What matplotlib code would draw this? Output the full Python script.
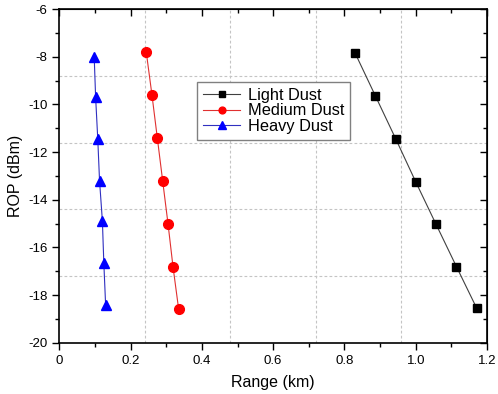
import numpy as np
import matplotlib.pyplot as plt
from matplotlib.ticker import MultipleLocator

plt.rcParams['font.family'] = ['Liberation Sans', 'DejaVu Sans']
plt.rcParams['axes.unicode_minus'] = False

# data
light_x = [0.830, 0.887, 0.944, 1.000, 1.056, 1.114, 1.171]
light_y = [-7.85, -9.65, -11.45, -13.25, -15.0, -16.8, -18.55]
medium_x = [0.244, 0.260, 0.275, 0.290, 0.305, 0.319, 0.335]
medium_y = [-7.8, -9.6, -11.4, -13.2, -15.0, -16.8, -18.6]
heavy_x = [0.098, 0.102, 0.108, 0.113, 0.121, 0.125, 0.130]
heavy_y = [-8.0, -9.7, -11.45, -13.2, -14.9, -16.65, -18.4]

xlim = (0, 1.2)
ylim = (-20, -6)

fig = plt.figure(figsize=(4.98, 3.94), dpi=100)
ax = fig.add_axes([0.119, 0.130, 0.859, 0.847])

# Origin-style grid: 5 equal divisions
for gx in np.linspace(xlim[0], xlim[1], 6)[1:-1]:
    ax.axvline(gx, color='#c4c4c4', linestyle=(0, (2.5, 2)), linewidth=0.8, zorder=0)
for gy in np.linspace(ylim[0], ylim[1], 6)[1:-1]:
    ax.axhline(gy, color='#c4c4c4', linestyle=(0, (2.5, 2)), linewidth=0.8, zorder=0)

ax.plot(light_x, light_y, color='#404040', linewidth=0.8, marker='s', markersize=6,
        markerfacecolor='black', markeredgecolor='black', label='Light Dust')
ax.plot(medium_x, medium_y, color='#e03030', linewidth=0.8, marker='o', markersize=7,
        markerfacecolor='red', markeredgecolor='red', label='Medium Dust')
ax.plot(heavy_x, heavy_y, color='#3030c0', linewidth=0.8, marker='^', markersize=7.5,
        markerfacecolor='blue', markeredgecolor='blue', label='Heavy Dust')

ax.set_xlim(*xlim)
ax.set_ylim(*ylim)
ax.xaxis.set_minor_locator(MultipleLocator(0.1))
ax.yaxis.set_major_locator(MultipleLocator(2))
ax.yaxis.set_minor_locator(MultipleLocator(1))
ax.set_xticks(np.arange(0, 1.21, 0.2))
ax.set_xticklabels(['0', '0.2', '0.4', '0.6', '0.8', '1.0', '1.2'])

ax.tick_params(which='both', direction='out', top=False, right=False, labelsize=9.5, width=1)
ax.tick_params(which='major', length=5)
ax.tick_params(which='minor', length=3)

# inward ticks on the top and right edges
sec_x = ax.secondary_xaxis('top')
sec_x.xaxis.set_major_locator(MultipleLocator(0.2))
sec_x.xaxis.set_minor_locator(MultipleLocator(0.1))
sec_x.tick_params(which='both', direction='in', labeltop=False, width=1)
sec_x.tick_params(which='major', length=5)
sec_x.tick_params(which='minor', length=3)
sec_y = ax.secondary_yaxis('right')
sec_y.yaxis.set_major_locator(MultipleLocator(2))
sec_y.yaxis.set_minor_locator(MultipleLocator(1))
sec_y.tick_params(which='both', direction='in', labelright=False, width=1)
sec_y.tick_params(which='major', length=5)
sec_y.tick_params(which='minor', length=3)

for s in ax.spines.values():
    s.set_linewidth(1.2)

ax.set_xlabel('Range (km)', fontsize=11.5, labelpad=6)
ax.set_ylabel('ROP (dBm)', fontsize=11.5, labelpad=4)

leg = ax.legend(loc='upper left', bbox_to_anchor=(0.322, 0.782), fontsize=11.8,
                frameon=True, fancybox=False, edgecolor='#808080', framealpha=1,
                handlelength=2.3, borderpad=0.35, labelspacing=0.05, handletextpad=0.45,
                borderaxespad=0, markerscale=0.7)
leg.get_frame().set_linewidth(1.0)

fig.savefig('out.png', dpi=100)
